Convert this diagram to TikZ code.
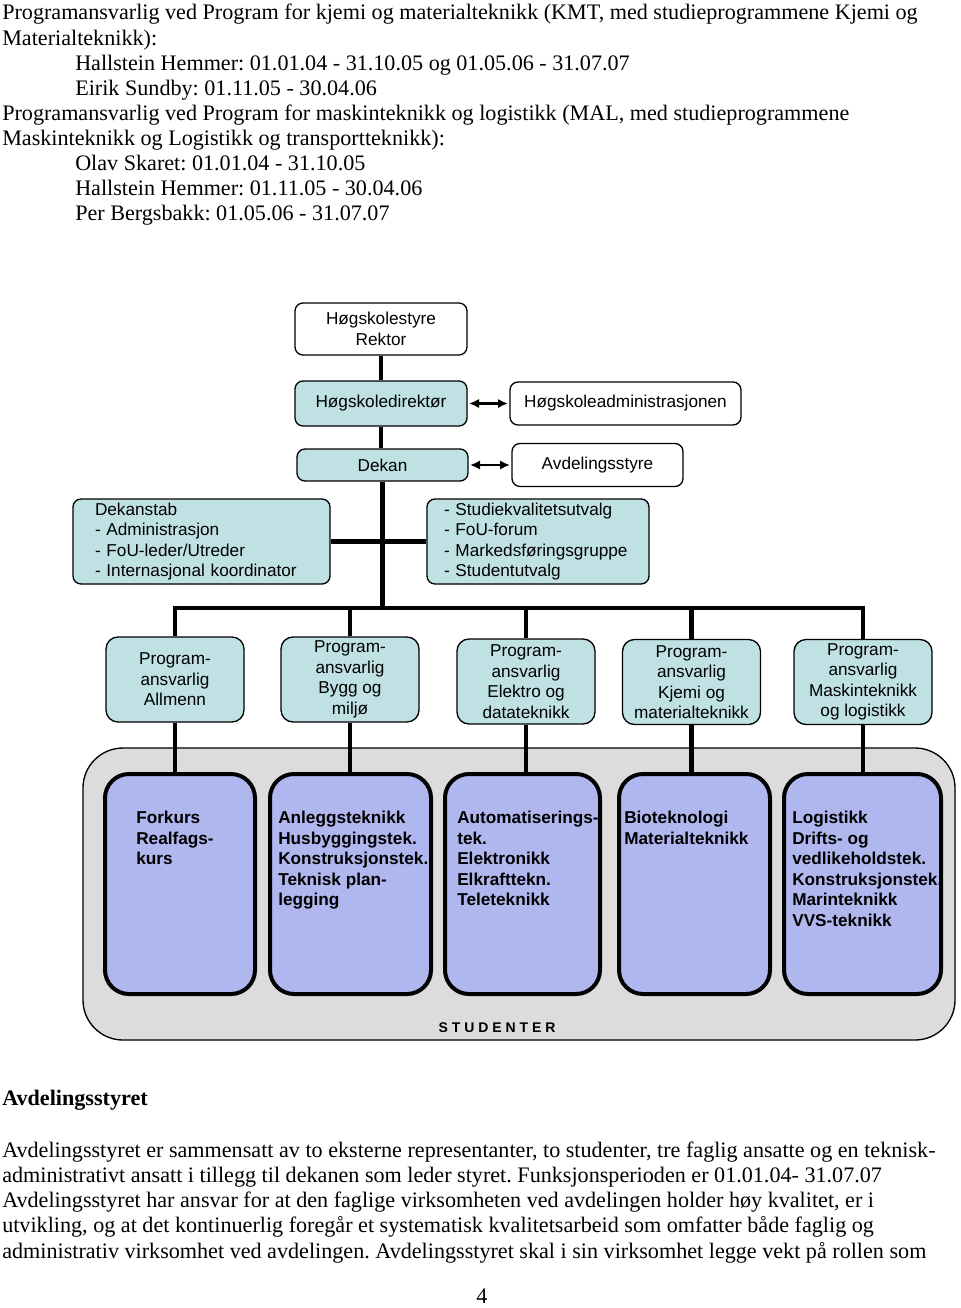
\documentclass[tikz,border=0pt]{standalone}
\usepackage{fontspec}
\setmainfont{Liberation Serif}
\setsansfont{Liberation Sans}
\usetikzlibrary{arrows.meta}
\frenchspacing

\definecolor{boxcyan}{HTML}{BFE1E4}
\definecolor{boxlilac}{HTML}{B0B6EE}
\definecolor{boxgrey}{HTML}{DCDCDC}

\tikzset{
  pagetext/.style={anchor=base west, inner sep=0pt, font=\fontsize{16.6}{18.75}\selectfont},
  headtext/.style={anchor=base west, inner sep=0pt, font=\bfseries\fontsize{16.6}{18.75}\selectfont},
  whitebox/.style={draw=black, line width=1pt, fill=white, rounded corners=6pt, inner sep=2pt, align=center,
    font=\sffamily\fontsize{12.9}{15.4}\selectfont},
  cyanbox/.style={whitebox, fill=boxcyan},
  progbox/.style={cyanbox, rounded corners=9pt, minimum width=103.5pt, minimum height=63.75pt},
  studbox/.style={draw=black, line width=3pt, fill=boxlilac, rounded corners=18pt, minimum height=165pt},
  studtext/.style={anchor=north west, inner sep=0pt, align=left, font=\sffamily\bfseries\fontsize{12.9}{15.4}\selectfont},
  link/.style={line width=3.2pt},
  dblarrow/.style={line width=2.2pt, {Latex[length=7.5pt,width=7pt]}-{Latex[length=7.5pt,width=7pt]}, shorten <=1pt, shorten >=1pt}
}

\begin{document}
\begin{tikzpicture}[x=0.75pt, y=-0.75pt]
  \useasboundingbox (0,0) rectangle (960,1308);

  % text above the chart
  \node[pagetext] (kmt1) at (2,20) {Programansvarlig ved Program for kjemi og materialteknikk (KMT, med studieprogrammene Kjemi og};
  \node[pagetext] (kmt2) at (2,45.1) {Materialteknikk):};
  \node[pagetext] (kmt3) at (75,70.2) {Hallstein Hemmer: 01.01.04 - 31.10.05 og 01.05.06 - 31.07.07};
  \node[pagetext] (kmt4) at (75,95.3) {Eirik Sundby: 01.11.05 - 30.04.06};
  \node[pagetext] (mal1) at (2,120.4) {Programansvarlig ved Program for maskinteknikk og logistikk (MAL, med studieprogrammene};
  \node[pagetext] (mal2) at (2,145.5) {Maskinteknikk og Logistikk og transportteknikk):};
  \node[pagetext] (mal3) at (75,170.6) {Olav Skaret: 01.01.04 - 31.10.05};
  \node[pagetext] (mal4) at (75,195.7) {Hallstein Hemmer: 01.11.05 - 30.04.06};
  \node[pagetext] (mal5) at (75,220.8) {Per Bergsbakk: 01.05.06 - 31.07.07};

  % top of the chart
  \node[whitebox, minimum width=129pt, minimum height=39pt] (styre) at (381,329) {Høgskolestyre\\Rektor};
  \node[cyanbox, minimum width=129pt, minimum height=33.75pt] (direktor) at (381,403.5) {Høgskoledirektør};
  \node[whitebox, minimum width=173.25pt, minimum height=32.25pt] (admin) at (625.5,403.5) {Høgskoleadministrasjonen};
  \node[cyanbox, minimum width=128.25pt, minimum height=24pt] (dekan) at (382.5,465) {Dekan};
  \node[whitebox, minimum width=128.25pt, minimum height=32.25pt] (avdstyre) at (597.5,465) {Avdelingsstyre};

  \node[cyanbox, minimum width=192.75pt, minimum height=63.75pt, text width=159.75pt, inner xsep=16.5pt, align=left] (stab) at (201.5,541.5)
    {Dekanstab\\- Administrasjon\\- FoU-leder/Utreder\\- Internasjonal koordinator};
  \node[cyanbox, minimum width=166.5pt, minimum height=63.75pt, text width=141pt, inner xsep=12.75pt, align=left] (utvalg) at (538,541.5)
    {- Studiekvalitetsutvalg\\- FoU-forum\\- Markedsføringsgruppe\\- Studentutvalg};

  \coordinate (hub) at (382.5,608);

  % programansvarlige
  \node[progbox] (p1) at (175,679.5) {Program-\\ansvarlig\\Allmenn};
  \node[progbox] (p2) at (350,679.5) {Program-\\ansvarlig\\Bygg og\\miljø};
  \node[progbox] (p3) at (526,681.5) {Program-\\ansvarlig\\Elektro og\\datateknikk};
  \node[progbox] (p4) at (691.5,682) {Program-\\ansvarlig\\Kjemi og\\materialteknikk};
  \node[progbox] (p5) at (863,682) {Program-\\ansvarlig\\Maskinteknikk\\og logistikk};

  % studenter
  \node[draw=black, line width=1pt, fill=boxgrey, rounded corners=30pt, minimum width=654pt, minimum height=219pt] (studenter) at (519,894) {};
  \node[inner sep=0pt, font=\sffamily\bfseries\fontsize{10.5}{12}\selectfont\addfontfeature{LetterSpace=28}] (studlabel) at (497,1028) {STUDENTER};

  \node[studbox, minimum width=112.5pt] (s1) at (180,884) {};
  \node[studbox, minimum width=120.75pt] (s2) at (350.5,884) {};
  \node[studbox, minimum width=116.25pt] (s3) at (522.5,884) {};
  \node[studbox, minimum width=113.25pt] (s4) at (694.5,884) {};
  \node[studbox, minimum width=117.75pt] (s5) at (862.5,884) {};

  \node[studtext] (t1) at (136,811) {Forkurs\\Realfags-\\kurs};
  \node[studtext] (t2) at (278,811) {Anleggsteknikk\\Husbyggingstek.\\Konstruksjonstek.\\Teknisk plan-\\legging};
  \node[studtext] (t3) at (457,811) {Automatiserings-\\tek.\\Elektronikk\\Elkrafttekn.\\Teleteknikk};
  \node[studtext] (t4) at (624,811) {Bioteknologi\\Materialteknikk};
  \node[studtext] (t5) at (792,811) {Logistikk\\Drifts- og\\vedlikeholdstek.\\Konstruksjonstek.\\Marinteknikk\\VVS-teknikk};

  % connectors
  \draw[link] (styre) -- (direktor);
  \draw[link] (direktor.south) -- (direktor.south |- dekan.north);
  \draw[link] (dekan.south) -- (hub);
  \draw[link] (stab) -- (utvalg);
  \draw[link] (p1.north) |- (hub) -| (p5.north);
  \foreach \p in {p2,p3,p4}
    \draw[link] (\p.north) -- (\p.north |- hub);
  \foreach \p/\s in {p1/s1,p2/s2,p3/s3,p4/s4,p5/s5}
    \draw[link] (\p.south) -- (\p.south |- \s.north);

  \draw[dblarrow] (direktor) -- (admin);
  \draw[dblarrow] (dekan) -- (avdstyre);

  % text below the chart
  \node[headtext] (avdhead) at (2,1105) {Avdelingsstyret};
  \node[pagetext] (avd1) at (2,1157) {Avdelingsstyret er sammensatt av to eksterne representanter, to studenter, tre faglig ansatte og en teknisk-};
  \node[pagetext] (avd2) at (2,1182.3) {administrativt ansatt i tillegg til dekanen som leder styret. Funksjonsperioden er 01.01.04- 31.07.07};
  \node[pagetext] (avd3) at (2,1207.6) {Avdelingsstyret har ansvar for at den faglige virksomheten ved avdelingen holder høy kvalitet, er i};
  \node[pagetext] (avd4) at (2,1232.9) {utvikling, og at det kontinuerlig foregår et systematisk kvalitetsarbeid som omfatter både faglig og};
  \node[pagetext] (avd5) at (2,1258.2) {administrativ virksomhet ved avdelingen. Avdelingsstyret skal i sin virksomhet legge vekt på rollen som};
  \node[pagetext, anchor=base] (pagenr) at (482,1303) {4};
\end{tikzpicture}
\end{document}
